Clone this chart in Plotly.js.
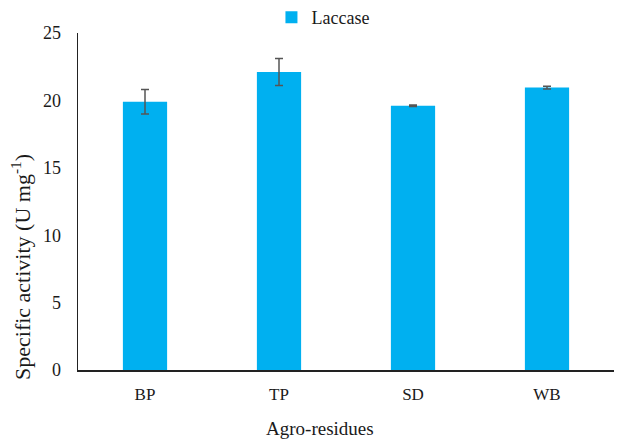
<!DOCTYPE html>
<html>
<head>
<meta charset="utf-8">
<script src="https://cdn.plot.ly/plotly-3.0.1.min.js"></script>
<style>html,body{margin:0;padding:0;background:#fff}#chart{width:618px;height:440px}</style>
</head>
<body>
<div id="chart"></div>
<script>
const categories = ["BP", "TP", "SD", "WB"];
const laccase = [19.9, 22.1, 19.6, 20.95];
const laccaseErr = [0.9, 1.0, 0.05, 0.1];
const yTicks = [0, 5, 10, 15, 20, 25];

const FAM = "'Liberation Serif', 'Times New Roman', 'DejaVu Serif', serif";
function f(size) { return {family: FAM, size: size, color: "#1a1a1a"}; }

Plotly.newPlot("chart", [{
  type: "bar",
  name: "Laccase",
  x: categories,
  y: laccase,
  marker: {color: "#00B0F0"},
  error_y: {type: "data", array: laccaseErr, visible: true, color: "#555555", thickness: 1.5, width: 4}
}], {
  width: 618, height: 440,
  margin: {l: 78, r: 4, t: 33, b: 70, autoexpand: false},
  paper_bgcolor: "#fff", plot_bgcolor: "#fff",
  bargap: 0.67,
  font: f(17),
  showlegend: true,
  legend: {orientation: "h", x: 0.457, xanchor: "center", y: 1.046, yanchor: "middle", font: f(18), itemwidth: 30},
  xaxis: {
    showline: true, linecolor: "#222", linewidth: 1.5,
    ticks: "", ticklabelstandoff: 8,
    tickfont: f(17)
  },
  yaxis: {
    range: [0, 25], tickvals: yTicks, showgrid: false, zeroline: false,
    showline: true, linecolor: "#222", linewidth: 1.5,
    ticks: "", ticklabelstandoff: 12,
    tickfont: f(18)
  },
  annotations: [{
    text: "Agro-residues", xref: "paper", yref: "paper",
    x: (320 - 78) / 536, y: -0.175, xanchor: "center", yanchor: "middle",
    showarrow: false, font: f(19)
  }, {
    text: "Specific activity (U mg<sup>-1</sup>)", xref: "paper", yref: "paper",
    x: (21 - 78) / 536, y: (370 - 267) / 337, xanchor: "center", yanchor: "middle",
    textangle: -90, showarrow: false, font: f(22)
  }]
}, {displayModeBar: false, staticPlot: true});
</script>
</body>
</html>
